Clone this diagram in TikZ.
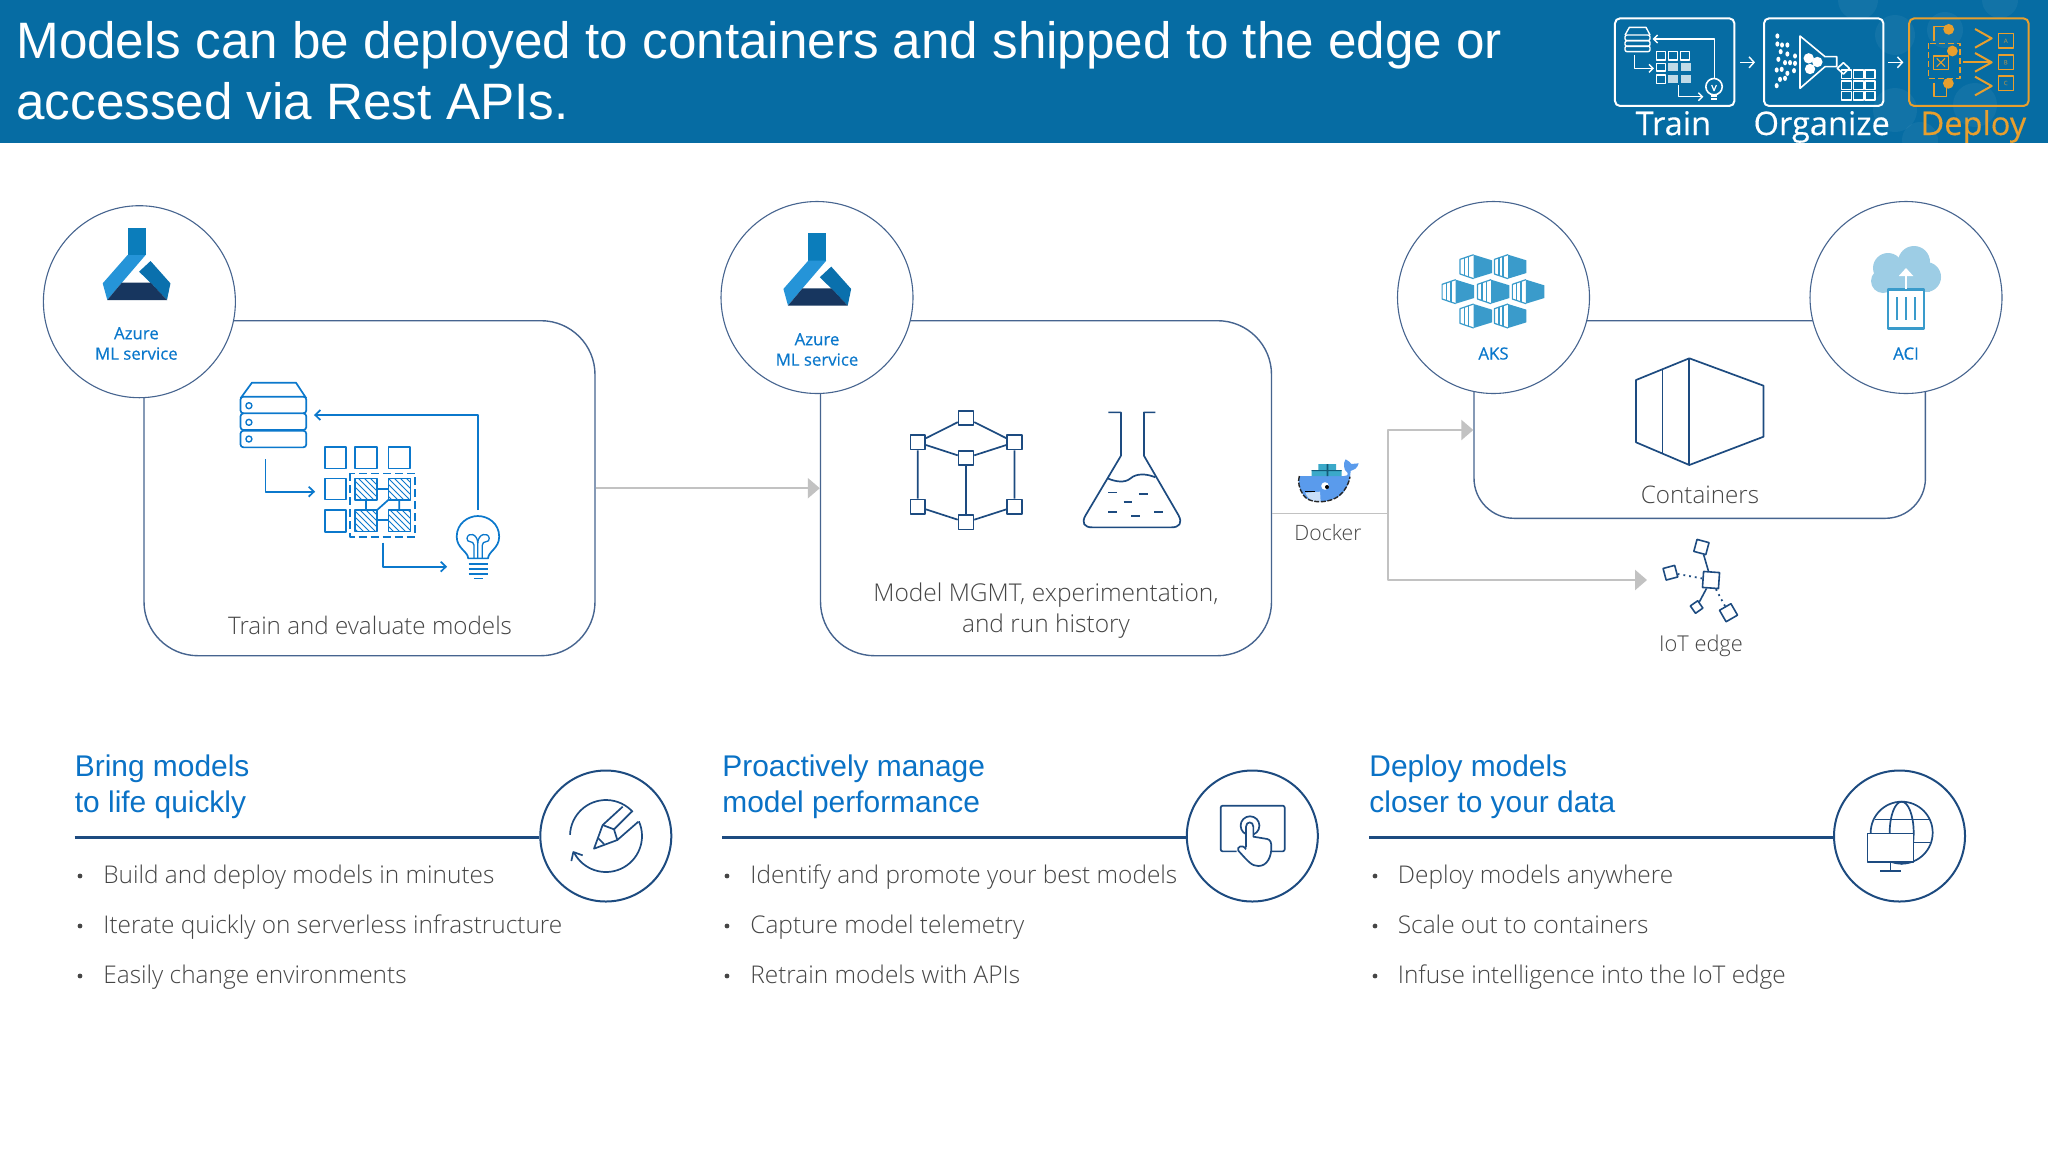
\documentclass[tikz,border=0pt]{standalone}
\usepackage{fontspec}
\setmainfont{Liberation Sans}
\newfontfamily\segl{Open Sans Light}
\newfontfamily\segr[FakeBold=0.25]{Open Sans}
\newfontfamily\segs[FakeBold=0.45]{Open Sans}
\usetikzlibrary{arrows.meta,patterns,calc}
\definecolor{hdr}{HTML}{066CA3}
\definecolor{orng}{HTML}{E89F2E}
\definecolor{navy}{HTML}{1D4B80}
\definecolor{boxl}{HTML}{46648F}
\definecolor{mblue}{HTML}{0A72C6}
\definecolor{ibl}{HTML}{0B78CC}
\definecolor{txt}{HTML}{454545}
\definecolor{gry}{HTML}{C2C2C2}
\definecolor{teal}{HTML}{3A9BCB}
\tikzset{
  zzii/.style={x=0.19135pt,y=-0.16667pt},
  zziii/.style={x=0.24237pt,y=-0.16667pt},
  zzu/.style={x=0.16667pt,y=-0.16667pt},
  bigbox/.style={draw=boxl,line width=0.7pt,fill=white,rectangle,inner sep=0pt},
  ring/.style={draw=boxl,line width=0.55pt,fill=white,circle,inner sep=0pt,minimum size=96pt},
  lring/.style={draw=navy,line width=1pt,fill=white,circle,inner sep=0pt,minimum size=65.5pt},
  greyarrow/.style={draw=gry,line width=1.2pt,-{Triangle[length=6pt,width=10pt]}},
  greyline/.style={draw=gry,line width=0.7pt},
  bluearrow/.style={draw=ibl,line width=0.85pt,-{Straight Barb[length=2.6pt,width=5pt]}},
  iconblue/.style={draw=ibl,line width=0.85pt},
  iconnavy/.style={draw=navy,line width=0.85pt},
  caption/.style={font=\segl\fontsize{12.1}{15.5}\selectfont,text=txt,inner sep=0pt,align=center},
  svc/.style={font=\segs\fontsize{8.4}{10.2}\selectfont,text=ibl,inner sep=0pt,align=center},
  head/.style={font=\fontsize{14.95}{18}\selectfont,text=mblue,inner sep=0pt,anchor=base west},
  bul/.style={font=\segl\fontsize{12.2}{15}\selectfont,text=txt,inner sep=0pt,anchor=base west},
  dotb/.style={fill=txt,circle,inner sep=0pt,minimum size=2.4pt},
  hat/.style={draw=ibl,line width=0.85pt,pattern=north west lines,pattern color=ibl},
  minibox/.style={draw=#1,line width=1pt,rounded corners=2.5pt,inner sep=0pt,rectangle,minimum width=59.7pt,minimum height=43.8pt},
  hdrlab/.style={font=\segr\fontsize{16.3}{18}\selectfont,inner sep=0pt,anchor=base},
  azlogo/.pic={
    \fill[fill={rgb,255:red,11;green,125;blue,187}] (255,113) rectangle (302,196);
    \fill[fill={rgb,255:red,37;green,148;blue,216}] (255,195)--(302,195)--(240,278)--(202,330)--(190,280)--cycle;
    \fill[fill={rgb,255:red,10;green,112;blue,173}] (315,213)--(367,280)--(358,330)--(312,275)--(285,245)--cycle;
    \fill[fill={rgb,255:red,23;green,54;blue,95}] (240,278)--(315,278)--(358,330)--(202,330)--cycle;
  },
  akspod/.pic={
    \fill[teal] (-5,-36)--(33,-19)--(33,19)--(-5,36)--cycle;
    \draw[teal,line width=0.6pt] (-5,-36)--(-33,-22)--(-33,22)--(-5,36);
    \draw[teal,line width=0.7pt] (-24,-26)--(-24,26) (-15,-31)--(-15,31);
  }
}
\begin{document}
\begin{tikzpicture}[x=0.5pt,y=-0.5pt,line join=round]
\useasboundingbox (0,0) rectangle (2048,1152);
\fill[white] (0,0) rectangle (2048,1152);
% ---- header
\fill[hdr] (0,0) rectangle (2048,143);
\begin{scope}
\clip (0,0) rectangle (2048,143);
\foreach \cx/\cy/\r in {1858/0/20,1895/35/20,1945/30/18,1895/110/22,1975/105/22,1920/140/18,2000/0/18}
  \fill[white,opacity=0.05] (\cx,\cy) circle[radius=\r];
\end{scope}
\node[font=\fontsize{25.6}{31}\selectfont,text=white,inner sep=0pt,anchor=base west] (title1) at (16,58) {Models can be deployed to containers and shipped to the edge or};
\node[font=\fontsize{25.6}{31}\selectfont,text=white,inner sep=0pt,anchor=base west] (title2) at (16,119.5) {accessed via Rest APIs.};
% mini panels
\begin{scope}[shift={(1580,0)},zzu]
\node[minibox=white] (mtrain) at (284,186.5) {};
\node[minibox=white] (morg) at (731,186.5) {};
\node[minibox=orng] (mdep) at (1166.5,186.5) {};
\draw[white,line width=0.7pt,-{Straight Barb[length=2.5pt,width=5.5pt]}] (480,187)--(525,187);
\draw[white,line width=0.7pt,-{Straight Barb[length=2.5pt,width=5.5pt]}] (925,187)--(970,187);
% train
\draw[white,line width=0.7pt] (135,105)--(148,82)--(198,82)--(210,105);
\foreach \yy in {105,122,138} \draw[white,line width=0.7pt,rounded corners=1pt] (135,\yy) rectangle (210,\yy+17);
\draw[white,line width=0.7pt,-{Straight Barb[length=2pt,width=4pt]}] (403,235)--(403,117)--(218,117);
\draw[white,line width=0.7pt,-{Straight Barb[length=2pt,width=4pt]}] (163,165)--(163,205)--(222,205);
\draw[white,line width=0.7pt,-{Straight Barb[length=2pt,width=4pt]}] (295,255)--(295,290)--(370,290);
\foreach \xx in {230,265,302}{\draw[white,line width=0.7pt] (\xx,155) rectangle (\xx+27,180);}
\draw[white,line width=0.7pt] (230,190) rectangle (257,213) (230,225) rectangle (257,250);
\foreach \xx in {265,302}\foreach \yy in {190,225}{\fill[white,opacity=0.75] (\xx,\yy) rectangle (\xx+30,\yy+24);}
\draw[white,line width=0.8pt] (402,260) circle[radius=4.1pt];
\draw[white,line width=0.9pt] (392,288)--(412,288) (394,298)--(410,298);
\draw[white,line width=0.6pt] (395,255)--(402,272)--(409,255);
% organize
\foreach \xx/\yy in {592/108,592/132,606/135,622/135,602/155,622/162,645/168,595/178,615/188,630/188,645/190,590/210,605/208,622/220,642/212,600/238,615/235,590/257}
  \fill[white] (\xx,\yy) ellipse[x radius=1pt,y radius=1.3pt];
\draw[white,line width=0.8pt] (660,108)--(735,170)--(770,170)--(770,200)--(735,200)--(660,265)--cycle;
\foreach \xx/\yy in {686/175,712/186,690/207}\fill[white] (\xx,\yy) circle[radius=2.6pt];
\draw[white,line width=0.8pt] (790,188)--(808,205)--(790,222)--(772,205)--cycle;
\foreach \xx in {785,820,855}\foreach \yy in {210,243,275}{\draw[white,line width=0.7pt] (\xx,\yy) rectangle (\xx+30,\yy+25);}
% deploy
\draw[orng,line width=0.7pt] (1062,122)--(1062,80)--(1100,80) (1062,250)--(1062,290)--(1100,290)--(1100,260);
\draw[orng,line width=0.7pt,dash pattern=on 3pt off 1.5pt] (1045,130) rectangle (1140,235);
\draw[orng,line width=0.8pt] (1060,168) rectangle (1105,208);
\draw[orng,line width=0.6pt] (1070,175)--(1095,200) (1095,175)--(1070,200);
\foreach \xx/\yy in {1106/88,1117/153,1105/250}\fill[orng] (\xx,\yy) circle[radius=2.7pt];
\draw[orng,line width=1pt] (1150,187)--(1230,187);
\foreach \yy in {115,187,258}{\draw[orng,line width=1pt] (1185,\yy-28)--(1235,\yy)--(1185,\yy+28);}
\foreach \yy/\ll in {122/A,187/B,249/C}{
  \node[draw=orng,line width=0.7pt,rectangle,minimum width=7.5pt,minimum height=7.2pt,inner sep=0pt,font=\segr\fontsize{3}{3}\selectfont,text=orng!55!hdr] (dep\ll) at (1277,\yy) {\ll};}
\node[hdrlab,text=white] (ltrain) at (280,405) {Train};
\node[hdrlab,text=white] (lorg) at (725,405) {Organize};
\node[hdrlab,text=orng] (ldep) at (1180,405) {Deploy};
\end{scope}
% ---- boxes
\node[bigbox,rounded corners=27pt,minimum width=225.5pt,minimum height=167.5pt] (box1) at (369.5,488.2) {};
\node[bigbox,rounded corners=27pt,minimum width=225.5pt,minimum height=167.5pt] (box2) at (1046,488.2) {};
\node[bigbox,rounded corners=20pt,minimum width=225.7pt,minimum height=98.8pt] (box3) at (1699.7,419.5) {};
% ---- grey connectors
\coordinate (dockout) at ($(box2.east)+(0,25.1)$);
\coordinate (junction) at (1387.8,513.3);
\coordinate (aksin) at ($(box3.west)+(0,10.5)$);
\coordinate (iotin) at (1647,580);
\draw[greyarrow] (box1.east)--(box2.west);
\draw[greyline] (dockout)--(junction);
\draw[greyarrow] (junction)--(junction|-aksin)--(aksin);
\draw[greyarrow] (junction)--(junction|-iotin)--(iotin);
% ---- rings
\node[ring] (ml1) at (139.4,301.7) {};
\node[ring] (ml2) at (817,297.5) {};
\node[ring] (aks) at (1493.5,297.5) {};
\node[ring] (aci) at (1906,297.5) {};
\begin{scope}[shift={(30,190)},zzii]\pic at (0,0) {azlogo};\end{scope}
\begin{scope}[shift={(710.7,195.6)},zzii]\pic at (0,0) {azlogo};\end{scope}
\node[svc] (ml1t) at (136.4,343.5) {Azure\\ML service};
\node[svc] (ml2t) at (817,349.5) {Azure\\ML service};
\node[svc] (akst) at (1493.5,353.5) {AKS};
\node[svc] (acit) at (1906,353.5) {ACI};
% AKS icon
\begin{scope}[shift={(1270,190)},zziii]
\foreach \px/\py in {425/230,496/230,388/305,461/305,533/305,425/378,496/378}
  \pic at (\px,\py) {akspod};
\end{scope}
% ACI icon
\fill[teal!50] (1883,281) circle[radius=12];
\fill[teal!50] (1888,268) circle[radius=15];
\fill[teal!50] (1914,262) circle[radius=16];
\fill[teal!50] (1926,277) circle[radius=15];
\fill[teal!50] (1885,270) rectangle (1930,292);
\draw[teal,line width=1.4pt,fill=white] (1888,289.5) rectangle (1924,328.3);
\foreach \xx in {1897,1906,1915}\draw[teal,line width=1pt] (\xx,297) -- (\xx,320);
\draw[white,line width=1pt,-{Triangle[length=4pt,width=7pt]}] (1906,289)--(1906,268);
% Containers icon
\begin{scope}[iconnavy]
\draw (1689.3,358.3)--(1763.5,385.7)--(1763.5,436.7)--(1689.3,465)--(1636,442.3)--(1636,380)--cycle;
\draw (1689.3,358.3)--(1689.3,465) (1662.6,369.3)--(1662.6,453.3);
\end{scope}
\node[caption] (contt) at (1700,495) {Containers};
% Docker whale
\begin{scope}[shift={(1280,440)},zzu]
\fill[fill={rgb,255:red,90;green,155;blue,236}] (58,108)--(192,108) .. controls (205,108) and (208,100) .. (195,90) .. controls (188,70) and (195,62) .. (197,58) .. controls (205,62) and (212,68) .. (214,72) -- (236,70) .. controls (232,85) and (222,90) .. (212,93) .. controls (210,130) and (195,165) .. (165,175) .. controls (135,190) and (85,190) .. (70,165) .. controls (58,148) and (52,125) .. (58,108)--cycle;
\fill[fill={rgb,255:red,200;green,222;blue,248}] (76,158)--(120,155)--(122,186) .. controls (100,188) and (85,180) .. (76,158)--cycle;
\draw[black!85,line width=0.7pt,dash pattern=on 2.5pt off 0.8pt] (58,108) .. controls (52,125) and (58,148) .. (70,165) .. controls (85,190) and (135,190) .. (165,175) .. controls (185,165) and (205,140) .. (210,110);
\fill[fill={rgb,255:red,59;green,169;blue,201}] (95,90) rectangle (185,108) (115,72) rectangle (168,90);
\fill[fill={rgb,255:red,20;green,90;blue,120}] (140,72) rectangle (145,108) (95,90) rectangle (185,93);
\fill[white] (135,138) circle[radius=1.9pt];
\fill[black] (141,141) circle[radius=1pt];
\draw[black,line width=0.6pt] (75,155)--(105,155);
\end{scope}
\node[caption,font=\segl\fontsize{10.6}{13}\selectfont] (dockt) at (1328,533) {Docker};
% IoT icon
\node[draw=navy,line width=0.8pt,fill=white,inner sep=0pt,minimum size=8pt,rotate=-4] (iotc) at (1711,580) {};
\node[draw=navy,line width=0.8pt,inner sep=0pt,minimum size=6.2pt,rotate=-15] (iot1) at (1701.4,547) {};
\node[draw=navy,line width=0.8pt,inner sep=0pt,minimum size=6pt,rotate=15] (iot2) at (1670.4,572.7) {};
\node[draw=navy,line width=0.8pt,inner sep=0pt,minimum size=4.5pt,rotate=35] (iot3) at (1696.6,607) {};
\node[draw=navy,line width=0.8pt,inner sep=0pt,minimum size=6.6pt,rotate=30] (iot4) at (1728.5,612.7) {};
\draw[navy,line width=0.8pt] (iotc)--(iot1) (iotc)--(iot3);
\draw[navy,line width=0.9pt,dotted] (iotc)--(iot2) (iotc)--(iot4);
\node[caption,font=\segl\fontsize{10.9}{13}\selectfont] (iott) at (1701,645.5) {IoT edge};
% ---- Train icon
\begin{scope}[shift={(30,190)},zzii]
\draw[iconblue] (550,625)--(580,578)--(695,578)--(722,625);
\foreach \yy/\cc in {620/647,670/697,722/747}{
  \draw[iconblue,rounded corners=1.5pt,fill=white] (550,\yy) rectangle (722,\yy+50);
  \draw[iconblue,line width=0.7pt] (572,\cc) circle[radius=1.5pt];}
\coordinate (bulbtop) at (1170,960);
\draw[bluearrow] (bulbtop)--(1170,675)--(742,675);
\draw[bluearrow] (615,808)--(615,905)--(745,905);
\draw[bluearrow] (922,1058)--(922,1130)--(1090,1130);
\foreach \xx/\ww in {770/56,850/57,937/56}{\draw[iconblue] (\xx,770) rectangle (\xx+\ww,835);}
\draw[iconblue] (770,865) rectangle (826,928) (770,960) rectangle (826,1025);
\draw[iconblue,dash pattern=on 4pt off 2pt] (836,850) rectangle (1006,1040);
\foreach \xx in {850,937}\foreach \yy in {865,960}{\draw[hat] (\xx,\yy) rectangle (\xx+57,\yy+64);}
\draw[iconblue] (907,897)--(937,897) (907,990)--(937,990) (878,929)--(878,960) (965,929)--(965,960) (907,960)--(937,929);
\draw[iconblue] (1145,1105) .. controls (1145,1085) and (1115,1075) .. (1115,1040) .. controls (1115,1000) and (1145,978) .. (1170,978) .. controls (1197,978) and (1226,1000) .. (1226,1040) .. controls (1226,1075) and (1197,1085) .. (1197,1105)--cycle;
\draw[iconblue,line width=0.65pt] (1160,1105)--(1160,1065) .. controls (1160,1050) and (1140,1060) .. (1142,1045) .. controls (1144,1025) and (1170,1030) .. (1170,1060)--(1170,1105);
\draw[iconblue,line width=0.65pt] (1182,1105)--(1182,1065) .. controls (1182,1050) and (1202,1060) .. (1200,1045) .. controls (1198,1025) and (1170,1030) .. (1170,1060);
\draw[iconblue] (1146,1122)--(1197,1122) (1146,1137)--(1197,1137) (1146,1151)--(1197,1151) (1160,1165)--(1183,1165);
\end{scope}
\node[caption] (trainc) at (370,625) {Train and evaluate models};
% ---- Model icons
\begin{scope}[shift={(700,190)},zzii]
\foreach \nn/\xx/\yy in {a/695/684,b/569/757,c/822/757,d/695/804,e/569/950,f/822/950,g/695/997}
  \node[draw=navy,line width=0.85pt,fill=white,inner sep=0pt,minimum width=7.4pt,minimum height=7.2pt] (cube\nn) at (\xx,\yy) {};
\draw[iconnavy] (cubea)--(cubeb) (cubea)--(cubec) (cubeb)--(cubed) (cubec)--(cubed) (cubed)--(cubeg) (cubeb)--(cubee) (cubec)--(cubef) (cubee)--(cubeg) (cubef)--(cubeg);
\draw[iconnavy] (1067,667)--(1100,667)--(1100,797)--(1008,975) .. controls (995,1000) and (1005,1012) .. (1025,1012)--(1232,1012) .. controls (1252,1012) and (1262,1000) .. (1250,975)--(1160,797)--(1160,667)--(1190,667);
\draw[iconnavy] (1065,865) .. controls (1085,875) and (1110,880) .. (1125,865) .. controls (1140,850) and (1165,850) .. (1190,862);
\draw[iconnavy] (1067,907)--(1090,907) (1147,911)--(1170,911) (1107,935)--(1130,935) (1067,966)--(1090,966) (1127,977)--(1150,977) (1187,966)--(1210,966);
\end{scope}
\node[caption,font=\segl\fontsize{12.25}{15.6}\selectfont] (modelc) at (1046,611) {Model MGMT, experimentation,\\and run history};
% ---- lower columns
\node[lring] (r1) at (605.8,836) {};
\node[lring] (r2) at (1252.3,836) {};
\node[lring] (r3) at (1899.5,836) {};
\coordinate (s1) at (74.5,837.5);
\coordinate (s2) at (722,837.5);
\coordinate (s3) at (1369,837.5);
\draw[navy,line width=1.6pt] (s1)--(s1-|r1.west);
\draw[navy,line width=1.6pt] (s2)--(s2-|r2.west);
\draw[navy,line width=1.6pt] (s3)--(s3-|r3.west);
% pencil
\begin{scope}[shift={(530,760)},zzu,draw=navy,line width=0.85pt]
\draw (228,228) ++(178:18pt) arc[start angle=178,end angle=42,radius=18pt];
\draw (228,228) ++(24:18pt) arc[start angle=24,end angle=-152,radius=18pt];
\draw (124,303)--(130,276)--(158,286);
\draw (278,140)--(218,195)--(192,266)--(262,240)--(325,185);
\draw (218,195)--(252,208)--(262,240) (252,208)--(305,155) (205,235)--(222,252);
\end{scope}
% touch
\begin{scope}[shift={(1180,760)},zzu,draw=navy,line width=0.85pt]
\draw[rounded corners=1pt] (170,274)--(122,274)--(122,137)--(314,137)--(314,274)--(272,274);
\draw (210,197) circle[radius=4.7pt];
\draw[fill=white] (198,262)--(198,200) .. controls (198,183) and (220,183) .. (220,200)--(220,230)--(262,237) .. controls (272,240) and (274,248) .. (274,262) .. controls (274,290) and (262,318) .. (235,318) .. controls (215,318) and (205,305) .. (175,272) .. controls (168,262) and (188,250) .. (198,268);
\end{scope}
% globe
\begin{scope}[shift={(1825,760)},zzu,draw=navy,line width=0.85pt]
\draw (230,218) circle[radius=15.5pt];
\draw (230,218) ellipse[x radius=6pt,y radius=15.5pt];
\draw (150,178)--(312,178) (265,247)--(315,247);
\draw[fill=white] (127,220) rectangle (265,305);
\draw (196,305)--(196,332) (165,332)--(228,332);
\end{scope}
% headings
\node[head] (h1a) at (74.5,776) {Bring models};
\node[head] (h1b) at (74.5,812) {to life quickly};
\node[head] (h2a) at (722,776) {Proactively manage};
\node[head] (h2b) at (722,812) {model performance};
\node[head] (h3a) at (1369,776) {Deploy models};
\node[head] (h3b) at (1369,812) {closer to your data};
% bullets
\foreach \nm/\xb/\xt/\ta/\tb/\tc in {
 a/76/103/{Build and deploy models in minutes}/{Iterate quickly on serverless infrastructure}/{Easily change environments},
 b/723/750/{Identify and promote your best models}/{Capture model telemetry}/{Retrain models with APIs},
 c/1371/1397.5/{Deploy models anywhere}/{Scale out to containers}/{Infuse intelligence into the IoT edge}}{
  \node[dotb] (d\nm1) at (\xb+4,876) {};
  \node[dotb] (d\nm2) at (\xb+4,926) {};
  \node[dotb] (d\nm3) at (\xb+4,976) {};
  \node[bul] (t\nm1) at (\xt,883.3) {\ta};
  \node[bul] (t\nm2) at (\xt,933.3) {\tb};
  \node[bul] (t\nm3) at (\xt,983) {\tc};
}
\end{tikzpicture}
\end{document}
